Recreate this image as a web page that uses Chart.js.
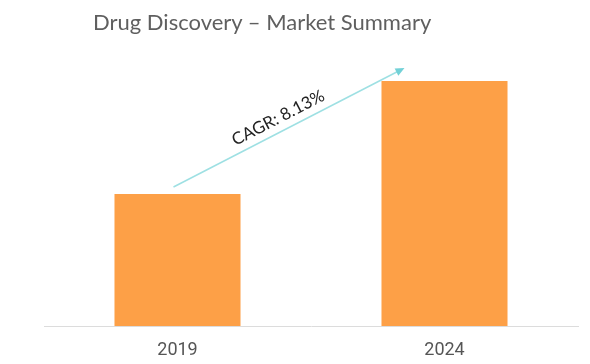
<!DOCTYPE html>
<html>
<head>
<meta charset="utf-8">
<script src="https://cdn.jsdelivr.net/npm/chart.js@4"></script>
<style>
  html, body { margin: 0; padding: 0; background: #fff; }
  #wrap { position: relative; width: 590px; height: 364px; }
  #chart { position: absolute; left: 0; top: 0; }
  #title { position: absolute; left: 93px; top: 8px; font: 22px Lato, sans-serif; color: #5f5f5f; white-space: nowrap; }
</style>
</head>
<body>
<div id="wrap">
  <canvas id="chart" width="590" height="364"></canvas>
  <div id="title">Drug Discovery – Market Summary</div>
</div>
<script>
const years = ['2019', '2024'];
const marketSize = [13.2, 24.5];
const cagrLabel = 'CAGR: 8.13%';

// arrow + CAGR text drawn over the bars
const cagrArrow = {
  id: 'cagrArrow',
  afterDatasetsDraw(chart) {
    const meta = chart.getDatasetMeta(0);
    const b1 = meta.data[0], b2 = meta.data[1];
    const x0 = b1.x - 4, y0 = b1.y - 7;
    const x1 = b2.x - b2.width / 2 + 23, y1 = b2.y - 13;
    const ctx = chart.ctx;
    const ang = Math.atan2(y1 - y0, x1 - x0);
    ctx.save();
    ctx.strokeStyle = '#9ee0e3';
    ctx.fillStyle = '#72d1d7';
    ctx.lineWidth = 1.5;
    ctx.beginPath();
    ctx.moveTo(x0, y0);
    ctx.lineTo(x1 - 6 * Math.cos(ang), y1 - 6 * Math.sin(ang));
    ctx.stroke();
    ctx.translate(x1, y1);
    ctx.rotate(ang);
    ctx.beginPath();
    ctx.moveTo(0, 0);
    ctx.lineTo(-9, -4);
    ctx.lineTo(-9, 4);
    ctx.closePath();
    ctx.fill();
    ctx.restore();

    ctx.save();
    const mx = x0 + (x1 - x0) * 0.48, my = y0 + (y1 - y0) * 0.48;
    ctx.translate(mx, my);
    ctx.rotate(ang);
    ctx.font = '17px Lato, sans-serif';
    ctx.fillStyle = '#222';
    ctx.textAlign = 'center';
    ctx.textBaseline = 'bottom';
    ctx.fillText(cagrLabel, 0, -5);
    ctx.restore();
  }
};

new Chart(document.getElementById('chart').getContext('2d'), {
  type: 'bar',
  data: {
    labels: years,
    datasets: [{
      data: marketSize,
      backgroundColor: '#fda047',
      borderWidth: 0,
      categoryPercentage: 1,
      barPercentage: 0.472
    }]
  },
  options: {
    responsive: false,
    animation: false,
    layout: { padding: { left: 44, right: 12, top: 56, bottom: 0 } },
    plugins: { legend: { display: false }, tooltip: { enabled: false } },
    scales: {
      x: {
        grid: { display: false, drawTicks: false },
        border: { display: true, color: '#dcdcdc', width: 1 },
        ticks: { padding: 14, color: '#555', font: { family: 'Roboto', size: 18 } },
        afterFit(scale) { scale.height = 38; }
      },
      y: { display: false, min: 0, max: 27 }
    }
  },
  plugins: [cagrArrow]
});
</script>
</body>
</html>
